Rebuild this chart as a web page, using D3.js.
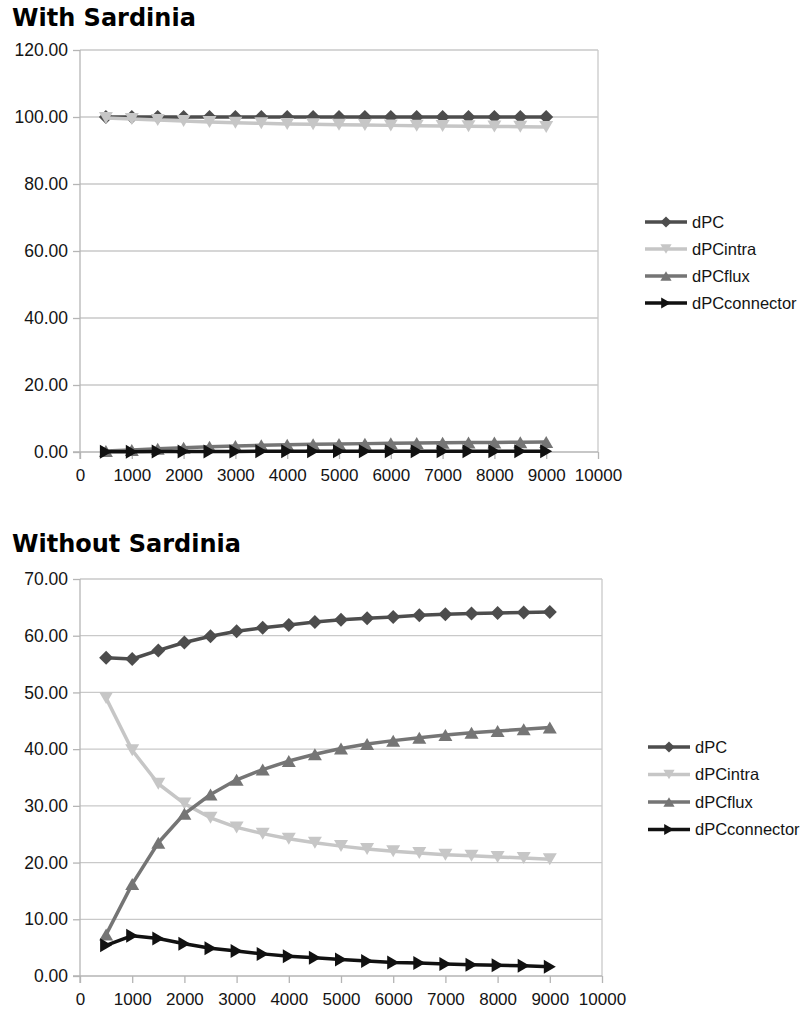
<!DOCTYPE html>
<html>
<head>
<meta charset="utf-8">
<script src="https://cdn.jsdelivr.net/npm/d3@7/dist/d3.min.js"></script>
<style>
  html, body { margin: 0; padding: 0; background: #ffffff; }
  svg { display: block; }
</style>
</head>
<body>
<svg id="chart" width="810" height="1009"></svg>
<script>
// ---------------- DATA ----------------
const xValues = [500, 1000, 1500, 2000, 2500, 3000, 3500, 4000, 4500, 5000, 5500, 6000, 6500, 7000, 7500, 8000, 8500, 9000];
const xTicks = [0, 1000, 2000, 3000, 4000, 5000, 6000, 7000, 8000, 9000, 10000];
const seriesNames = ["dPC", "dPCintra", "dPCflux", "dPCconnector"];

// With Sardinia
const withTitle = "With Sardinia";
const withYTicks = [0, 20, 40, 60, 80, 100, 120];
const withDPC = [100, 100, 100, 100, 100, 100, 100, 100, 100, 100, 100, 100, 100, 100, 100, 100, 100, 100];
const withIntra = [99.7, 99.4, 99.1, 98.8, 98.5, 98.3, 98.1, 97.9, 97.8, 97.7, 97.6, 97.5, 97.4, 97.3, 97.25, 97.2, 97.1, 97.0];
const withFlux = [0.3, 0.6, 1.0, 1.3, 1.6, 1.8, 2.0, 2.2, 2.3, 2.4, 2.5, 2.6, 2.7, 2.75, 2.8, 2.85, 2.9, 3.0];
const withConn = [0.05, 0.1, 0.12, 0.15, 0.17, 0.18, 0.19, 0.2, 0.2, 0.2, 0.2, 0.2, 0.2, 0.2, 0.2, 0.2, 0.2, 0.2];

// Without Sardinia
const withoutTitle = "Without Sardinia";
const withoutYTicks = [0, 10, 20, 30, 40, 50, 60, 70];
const withoutDPC = [56.1, 55.9, 57.4, 58.8, 59.9, 60.8, 61.4, 61.9, 62.4, 62.8, 63.1, 63.3, 63.6, 63.8, 63.9, 64.0, 64.1, 64.2];
const withoutIntra = [49.0, 39.8, 33.9, 30.4, 27.9, 26.2, 25.1, 24.2, 23.5, 22.9, 22.4, 22.0, 21.7, 21.4, 21.2, 21.0, 20.8, 20.6];
const withoutFlux = [7.3, 16.2, 23.5, 28.6, 32.0, 34.6, 36.4, 37.9, 39.1, 40.1, 40.9, 41.5, 42.0, 42.5, 42.9, 43.2, 43.5, 43.8];
const withoutConn = [5.4, 7.1, 6.6, 5.7, 4.9, 4.4, 3.9, 3.5, 3.2, 2.9, 2.65, 2.4, 2.3, 2.1, 2.0, 1.9, 1.8, 1.65];

// ---------------- STYLE ----------------
const seriesColors = ["#4d4d4d", "#c6c6c6", "#757575", "#111111"];
const seriesShapes = ["diamond", "down", "up", "right"];
const gridColor = "#c9c9c9";
const axisColor = "#b5b5b5";
const textColor = "#141414";
const labelFont = "'Liberation Sans', Arial, sans-serif";

function markerPath(shape) {
  switch (shape) {
    case "diamond": return "M0,-7L7,0L0,7L-7,0Z";
    case "down": return "M-7,-6L7,-6L0,6Z";
    case "up": return "M-7,6L7,6L0,-6Z";
    case "right": return "M-6,-7L6,0L-6,7Z";
  }
}

const svg = d3.select("#chart");

function drawChart(cfg) {
  const g = svg.append("g");
  const x = d3.scaleLinear().domain([0, 10000]).range([cfg.left, cfg.right]);
  const y = d3.scaleLinear().domain([0, cfg.yMax]).range([cfg.bottom, cfg.top]);

  // title
  g.append("text")
    .attr("x", 12).attr("y", cfg.titleY)
    .attr("font-family", "'DejaVu Sans', sans-serif")
    .attr("font-weight", "bold")
    .attr("font-size", 24)
    .attr("fill", "#000")
    .text(cfg.title);

  // gridlines
  g.append("g").selectAll("line")
    .data(cfg.yTicks.filter(d => d > 0))
    .join("line")
    .attr("x1", cfg.left).attr("x2", cfg.right)
    .attr("y1", d => y(d)).attr("y2", d => y(d))
    .attr("stroke", gridColor).attr("stroke-width", 1.3);

  // right border
  g.append("line")
    .attr("x1", cfg.right).attr("x2", cfg.right)
    .attr("y1", cfg.top).attr("y2", cfg.bottom)
    .attr("stroke", gridColor).attr("stroke-width", 1.3);

  // y axis
  const yAxis = d3.axisLeft(y).tickValues(cfg.yTicks).tickSize(7).tickPadding(5)
    .tickFormat(d3.format(".2f"));
  const yg = g.append("g").attr("transform", `translate(${cfg.left},0)`).call(yAxis);
  yg.select(".domain").remove();
  yg.append("line").attr("x1", 0).attr("x2", 0).attr("y1", cfg.top).attr("y2", cfg.bottom + 7)
    .attr("stroke", axisColor).attr("stroke-width", 1.3);
  yg.selectAll(".tick line").attr("stroke", axisColor).attr("stroke-width", 1.3);
  yg.selectAll(".tick text")
    .attr("font-family", labelFont).attr("font-size", 17.5).attr("fill", textColor);

  // x axis
  const xAxis = d3.axisBottom(x).tickValues(xTicks).tickSize(7).tickPadding(10)
    .tickFormat(d3.format("d"));
  const xg = g.append("g").attr("transform", `translate(0,${cfg.bottom})`).call(xAxis);
  xg.select(".domain").remove();
  xg.append("line").attr("x1", cfg.left - 7).attr("x2", cfg.right).attr("y1", 0).attr("y2", 0)
    .attr("stroke", axisColor).attr("stroke-width", 1.3);
  xg.selectAll(".tick line").attr("stroke", axisColor).attr("stroke-width", 1.3);
  xg.selectAll(".tick text")
    .attr("font-family", labelFont).attr("font-size", 17).attr("fill", textColor);

  // series
  const line = d3.line().x(d => x(d[0])).y(d => y(d[1]));
  cfg.series.forEach((vals, i) => {
    const pts = xValues.map((xv, j) => [xv, vals[j]]);
    const sg = g.append("g");
    sg.append("path").datum(pts)
      .attr("d", line)
      .attr("fill", "none")
      .attr("stroke", seriesColors[i])
      .attr("stroke-width", 3.5)
      .attr("stroke-linejoin", "round");
    sg.selectAll("path.m").data(pts).join("path")
      .attr("class", "m")
      .attr("transform", d => `translate(${x(d[0])},${y(d[1])})`)
      .attr("d", markerPath(seriesShapes[i]))
      .attr("fill", seriesColors[i]);
  });

  // legend
  const lg = g.append("g");
  seriesNames.forEach((name, i) => {
    const ly = cfg.legendY + i * cfg.legendGap;
    lg.append("line")
      .attr("x1", cfg.legendX).attr("x2", cfg.legendX + 42)
      .attr("y1", ly).attr("y2", ly)
      .attr("stroke", seriesColors[i]).attr("stroke-width", 3.5);
    lg.append("path")
      .attr("transform", `translate(${cfg.legendX + 21},${ly}) scale(0.8)`)
      .attr("d", markerPath(seriesShapes[i]))
      .attr("fill", seriesColors[i]);
    lg.append("text")
      .attr("x", cfg.legendX + 47).attr("y", ly)
      .attr("dy", "0.35em")
      .attr("font-family", labelFont).attr("font-size", 16.5)
      .attr("fill", textColor)
      .text(name);
  });
}

drawChart({
  title: withTitle, titleY: 26,
  left: 80, right: 598, top: 50, bottom: 452, yMax: 120,
  yTicks: withYTicks,
  series: [withDPC, withIntra, withFlux, withConn],
  legendX: 645, legendY: 222, legendGap: 27
});

drawChart({
  title: withoutTitle, titleY: 552,
  left: 80, right: 602, top: 579, bottom: 976, yMax: 70,
  yTicks: withoutYTicks,
  series: [withoutDPC, withoutIntra, withoutFlux, withoutConn],
  legendX: 648, legendY: 747, legendGap: 27.5
});
</script>
</body>
</html>
